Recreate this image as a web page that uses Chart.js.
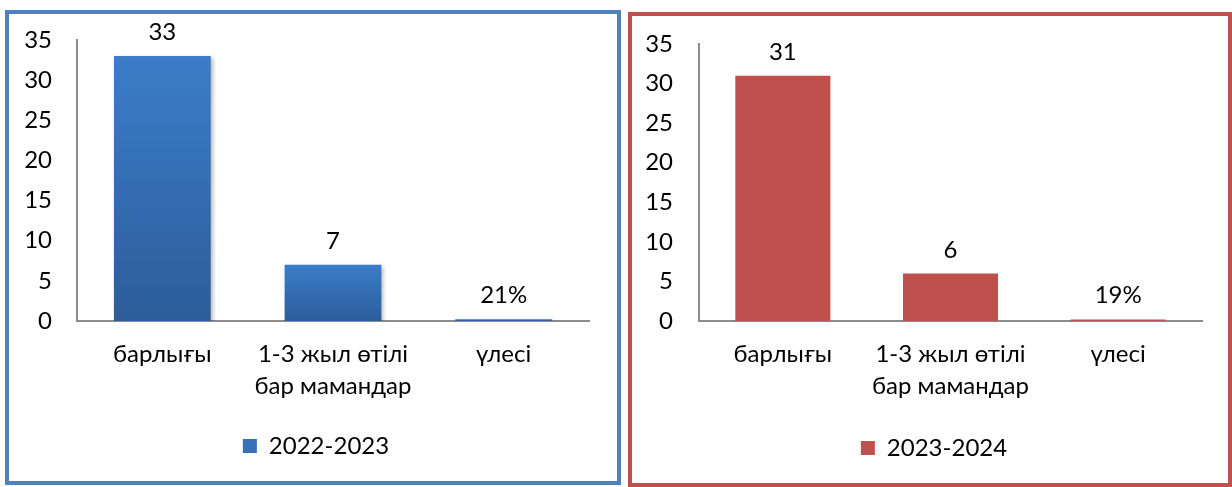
<!DOCTYPE html>
<html>
<head>
<meta charset="utf-8">
<script src="https://cdn.jsdelivr.net/npm/chart.js@4/dist/chart.umd.min.js"></script>
<style>
  html, body { margin: 0; padding: 0; background: #fff; }
  body { width: 1232px; height: 487px; position: relative; overflow: hidden; }
  .panel { position: absolute; box-sizing: border-box; border: 4px solid; background: #fff; }
  #panelLeft { left: 5px; top: 10px; width: 616px; height: 475px; border-color: #4f81bd; }
  #panelRight { left: 628px; top: 12px; width: 604px; height: 475px; border-color: #c0504d; }
  .panel canvas { display: block; }
</style>
</head>
<body>
<div class="panel" id="panelLeft"><canvas id="chartLeft"></canvas></div>
<div class="panel" id="panelRight"><canvas id="chartRight"></canvas></div>

<script>
// categories (the middle one wraps onto two lines)
const categories = ['барлығы', ['1-3 жыл өтілі', 'бар мамандар'], 'үлесі'];
// how each value label is printed
const valueFormats = ['number', 'number', 'percent'];

const series2022Label = '2022-2023';
const series2022 = [33, 7, 0.21];

const series2023Label = '2023-2024';
const series2023 = [31, 6, 0.19];

const yMax = 35;
const yStep = 5;

const FONT = "Lato, 'Noto Sans', sans-serif";
const AXIS_GRAY = '#8c8c8c';
const TEXT_SIZE = 24;

Chart.defaults.font.family = FONT;
Chart.defaults.color = '#000';

/**
 * Draws the value above each bar, Excel style
 */
const valueLabelPlugin = {
  id: 'valueLabels',
  afterLayout(chart) {
    // Excel centres the legend on the whole panel, not on the padded box
    const shift = chart.options.plugins.valueLabels.legendShift || 0;
    if (chart.legend) {
      chart.legend.left += shift;
      chart.legend.right += shift;
    }
  },
  beforeDatasetsDraw(chart) {
    const sh = chart.options.plugins.valueLabels.shadow;
    if (!sh) return;
    const ctx = chart.ctx;
    ctx.save();
    ctx.shadowColor = 'rgba(0, 0, 0, 0.28)';
    ctx.shadowBlur = 4;
    ctx.shadowOffsetX = 2;
    ctx.shadowOffsetY = 2;
  },
  afterDatasetsDraw(chart) {
    const opts = chart.options.plugins.valueLabels;
    const ctx = chart.ctx;
    if (opts.shadow) ctx.restore();
    ctx.save();
    ctx.font = `${opts.size}px ${FONT}`;
    ctx.fillStyle = '#000';
    ctx.textAlign = 'center';
    ctx.textBaseline = 'alphabetic';
    chart.data.datasets.forEach((ds, di) => {
      chart.getDatasetMeta(di).data.forEach((bar, i) => {
        const v = ds.data[i];
        const text = valueFormats[i] === 'percent' ? Math.round(v * 100) + '%' : String(v);
        ctx.fillText(text, bar.x, bar.y - opts.offset);
      });
    });
    ctx.restore();
  },
};

// vertical gradient per bar (light top, darker bottom)
function barGradient(top, bottom, fallback) {
  return (context) => {
    const chart = context.chart;
    if (context.type !== 'data' || !chart.chartArea) return fallback;
    const y = chart.scales.y;
    const y0 = y.getPixelForValue(context.raw);
    const y1 = y.getPixelForValue(0);
    if (y1 - y0 < 1) return fallback;
    const g = chart.ctx.createLinearGradient(0, y0, 0, y1);
    g.addColorStop(0, top);
    g.addColorStop(1, bottom);
    return g;
  };
}

/**
 * Create one bar chart panel
 */
function createBarChart(canvasId, cfg) {
  const canvas = document.getElementById(canvasId);
  canvas.width = cfg.width;
  canvas.height = cfg.height;
  canvas.style.width = cfg.width + 'px';
  canvas.style.height = cfg.height + 'px';

  return new Chart(canvas.getContext('2d'), {
    type: 'bar',
    data: {
      labels: categories,
      datasets: [
        {
          label: cfg.label,
          data: cfg.data,
          backgroundColor: cfg.color,
          borderWidth: 0,
          categoryPercentage: 1,
          barPercentage: 0.567,
        },
      ],
    },
    options: {
      responsive: false,
      animation: false,
      layout: { padding: cfg.padding },
      scales: {
        x: {
          grid: { display: false, drawTicks: false },
          border: { display: true, color: AXIS_GRAY, width: 2 },
          ticks: { font: { size: TEXT_SIZE, lineHeight: 1.3 }, padding: cfg.xTickPad, maxRotation: 0, autoSkip: false },
          afterFit: (scale) => { scale.height = cfg.xHeight; },
        },
        y: {
          min: 0,
          max: yMax,
          ticks: { stepSize: yStep, font: { size: TEXT_SIZE }, padding: cfg.yTickPad },
          grid: { display: false, drawTicks: false },
          border: { display: true, color: AXIS_GRAY, width: 2 },
          afterFit: (scale) => {
            // fixed axis width, and don't let the tick labels push the plot down
            scale.width = cfg.yWidth;
            scale.paddingTop = 0;
            scale.paddingBottom = 0;
          },
        },
      },
      plugins: {
        legend: {
          position: 'bottom',
          labels: {
            font: { size: TEXT_SIZE },
            boxWidth: 14,
            boxHeight: 14,
            padding: 10,
            generateLabels: (chart) =>
              Chart.defaults.plugins.legend.labels.generateLabels(chart).map((item) => ({
                ...item,
                fillStyle: cfg.legendColor,
              })),
          },
        },
        tooltip: { enabled: false },
        valueLabels: { size: TEXT_SIZE, offset: 16, shadow: cfg.shadow, legendShift: 17 },
      },
    },
    plugins: [valueLabelPlugin],
  });
}

createBarChart('chartLeft', {
  width: 608,
  height: 467,
  label: series2022Label,
  data: series2022,
  color: barGradient('#3b7dc9', '#2c5d9a', '#3a73bd'),
  legendColor: '#3670b8',
  padding: { top: 26, left: 0, right: 28, bottom: 13 },
  yWidth: 68,
  xHeight: 103,
  xTickPad: 18,
  yTickPad: 25,
  shadow: true,
});

createBarChart('chartRight', {
  width: 596,
  height: 467,
  label: series2023Label,
  data: series2023,
  color: '#c0504d',
  legendColor: '#c0504d',
  padding: { top: 28, left: 0, right: 26, bottom: 13 },
  yWidth: 67,
  xHeight: 105,
  xTickPad: 18,
  yTickPad: 26,
  shadow: false,
});
</script>
</body>
</html>
